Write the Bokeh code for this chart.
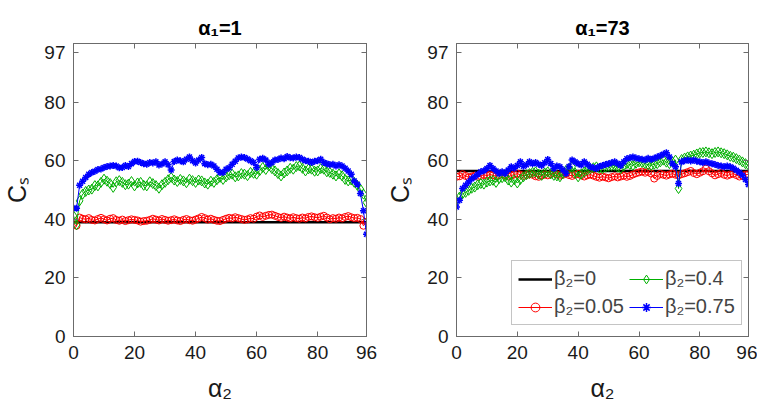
from bokeh.plotting import figure
from bokeh.models import Range1d, FixedTicker, LinearAxis, Legend, LegendItem
from bokeh.layouts import row
from bokeh.embed import file_html
from bokeh.resources import INLINE

# ---------------- data ----------------
alpha2 = list(range(97))
x_ticks = [0, 20, 40, 60, 80, 96]
y_ticks = [0, 20, 40, 60, 80, 97]
titles = ["α₁=1", "α₁=73"]
labels = ["β₂=0", "β₂=0.05", "β₂=0.4", "β₂=0.75"]

black_x = [0, 96]
left_b0 = [39.0, 39.0]
right_b0 = [56.5, 56.5]

left_b005 = [38.3, 37.8, 40.6, 40.2, 40.0, 40.4, 39.8, 39.6, 40.1, 40.5,
             40.0, 39.6, 40.2, 40.4, 39.8, 39.5, 39.9, 39.4, 39.7, 40.0,
             39.8, 39.6, 39.2, 39.4, 39.5, 39.8, 40.2, 39.9, 39.6, 40.1,
             39.8, 39.5, 39.7, 40.0, 39.6, 39.4, 39.8, 40.1, 39.7, 39.5,
             39.9, 40.3, 40.8, 40.4, 39.9, 40.2, 39.8, 39.5, 39.4, 39.8,
             40.2, 40.5, 40.3, 40.7, 40.4, 40.1, 39.8, 40.0, 40.4, 40.2,
             40.9, 41.3, 40.8, 41.2, 41.5, 41.6, 41.2, 40.8, 40.5, 40.9,
             40.6, 40.3, 40.7, 40.4, 40.2, 40.6, 40.3, 40.8, 41.0, 40.7,
             40.5, 40.9, 41.2, 40.6, 40.0, 40.4, 40.2, 40.6, 40.3, 40.8,
             41.1, 40.7, 40.4, 40.5, 40.1, 37.8, 39.2]

left_b04 = [41.2, 38.1, 46.3, 48.6, 49.5, 50.0, 50.3, 51.5, 51.4, 52.6,
            53.7, 53.0, 52.2, 50.9, 52.8, 53.2, 52.6, 51.8, 52.0, 52.9,
            51.4, 52.4, 52.6, 51.6, 51.4, 52.8, 52.2, 51.5, 50.6, 51.8,
            52.6, 53.5, 54.3, 53.4, 52.9, 53.6, 53.1, 52.5, 53.7, 53.2,
            52.6, 53.4, 53.1, 52.4, 52.0, 53.0, 52.6, 53.5, 54.3, 53.6,
            54.5, 55.2, 55.4, 54.5, 54.8, 55.6, 55.4, 54.9, 56.0, 55.7,
            55.4, 56.6, 57.7, 57.0, 58.2, 57.3, 56.5, 55.6, 54.8, 55.8,
            56.5, 57.4, 57.1, 58.0, 58.2, 57.4, 56.5, 57.2, 57.1, 56.4,
            56.5, 57.3, 57.1, 56.2, 56.0, 55.4, 54.8, 55.5, 54.8, 53.6,
            53.1, 53.4, 52.6, 51.6, 50.3, 48.6, 45.7]

left_b075 = [43.8, 43.8, 51.6, 53.0, 54.3, 55.4, 56.0, 56.4, 57.0, 57.2,
             57.7, 58.0, 58.2, 58.4, 58.2, 57.6, 57.7, 58.4, 58.0, 59.0,
             59.7, 59.8, 59.4, 59.0, 58.8, 59.4, 59.2, 59.6, 58.5, 58.9,
             59.6, 58.6, 56.8, 59.7, 60.2, 60.0, 59.6, 60.5, 61.3, 60.0,
             59.2, 60.2, 61.1, 59.0, 58.6, 58.8, 58.2, 57.1, 56.0, 56.0,
             57.1, 57.6, 58.8, 59.8, 60.9, 61.3, 61.1, 60.6, 60.0, 59.4,
             57.7, 60.5, 60.8, 60.2, 58.8, 59.4, 60.2, 60.4, 60.9, 60.7,
             61.4, 61.0, 60.9, 61.3, 61.1, 60.5, 60.0, 59.8, 59.4, 59.8,
             60.0, 60.5, 59.4, 59.0, 58.6, 58.8, 58.2, 58.6, 58.2, 57.4,
             56.5, 55.4, 53.1, 52.0, 48.8, 42.9, 34.9]

right_b005 = [54.5, 54.7, 55.4, 54.8, 54.3, 54.6, 54.9, 54.5, 54.8, 55.2,
              54.9, 55.3, 55.0, 54.7, 55.1, 55.4, 55.0, 54.6, 54.9, 55.3,
              55.6, 55.2, 54.8, 55.1, 55.5, 55.2, 54.7, 54.5, 54.9, 55.3,
              55.0, 55.4, 55.8, 55.3, 54.9, 55.2, 55.6, 55.1, 54.8, 55.2,
              55.5, 55.0, 54.6, 55.0, 55.3, 54.9, 54.5, 54.2, 54.6, 54.3,
              54.0, 54.4, 54.7, 54.3, 54.6, 54.9, 54.5, 54.8, 55.3, 55.7,
              56.0, 56.3, 55.9, 56.2, 55.6, 53.9, 54.8, 55.5, 55.2, 54.9,
              55.3, 55.6, 55.2, 55.0, 55.4, 55.7, 56.1, 56.5, 55.8, 55.4,
              55.9, 56.4, 57.3, 56.4, 55.7, 55.0, 55.4, 55.8, 55.2, 54.9,
              55.3, 55.6, 55.1, 54.6, 54.9, 55.2, 55.4]

right_b04 = [46.5, 47.6, 48.7, 49.2, 49.9, 50.6, 51.0, 51.8, 52.2, 52.0,
             52.7, 53.1, 53.3, 52.6, 53.9, 54.2, 54.5, 53.4, 52.7, 53.5,
             52.4, 53.6, 54.5, 55.2, 55.6, 56.0, 56.2, 55.4, 55.0, 55.8,
             56.2, 55.5, 55.0, 54.8, 54.5, 55.6, 56.7, 57.3, 57.9, 55.8,
             54.5, 55.4, 56.2, 56.8, 57.3, 57.6, 57.9, 57.4, 57.3, 57.8,
             58.1, 58.3, 58.4, 57.8, 57.3, 58.2, 59.0, 58.7, 58.4, 59.1,
             59.6, 59.4, 59.0, 58.6, 58.4, 58.8, 59.0, 59.6, 60.2, 59.5,
             59.0, 59.6, 60.2, 50.5, 60.4, 60.9, 61.3, 61.6, 61.9, 62.3,
             62.7, 62.8, 63.0, 62.7, 62.4, 62.8, 63.0, 62.7, 62.4, 62.0,
             61.5, 61.2, 60.7, 60.2, 59.6, 59.0, 58.4]

right_b075 = [44.2, 46.5, 50.5, 51.6, 52.7, 53.8, 54.5, 55.4, 56.2, 56.6,
              57.3, 58.4, 57.3, 56.5, 55.6, 56.2, 55.6, 56.8, 57.9, 57.4,
              58.4, 59.6, 58.1, 58.6, 59.6, 59.0, 59.4, 58.8, 58.4, 59.3,
              60.4, 59.0, 57.3, 58.2, 57.9, 56.8, 55.6, 58.0, 60.2, 59.6,
              59.0, 58.5, 59.6, 58.8, 57.9, 57.6, 57.3, 58.0, 58.4, 58.7,
              59.0, 59.3, 59.6, 59.0, 58.4, 59.6, 60.7, 61.0, 61.3, 60.9,
              60.7, 60.5, 60.2, 60.8, 60.4, 60.8, 61.3, 61.7, 62.2, 62.7,
              61.3, 59.0, 57.9, 52.2, 59.6, 60.0, 60.2, 59.9, 60.2, 59.8,
              59.6, 59.3, 59.6, 59.2, 59.0, 58.7, 58.4, 58.2, 57.9, 58.2,
              57.9, 57.4, 56.7, 56.0, 55.0, 53.6, 51.9]

# ---------------- styling ----------------
FONT = "Liberation Sans"
AX = "#6b6b6b"
RED = "#ff0000"
GREEN = "#00b000"
BLUE = "#0000ff"


def make(title, b0, b005, b04, b075, bl, br, fw, with_legend):
    p = figure(frame_width=fw, frame_height=293,
               x_range=Range1d(0, 96), y_range=Range1d(0, 100),
               output_backend="svg", toolbar_location=None,
               min_border_left=bl, min_border_right=br,
               min_border_top=43, min_border_bottom=61)
    p.title.text = title
    p.title.align = "center"
    p.title.text_font = FONT
    p.title.text_font_size = "20px"
    p.title.text_font_style = "bold"
    p.title.text_color = "black"
    p.title.padding = (0, 0, 9, 0)
    p.grid.visible = False
    p.outline_line_color = AX
    p.background_fill_color = "white"
    p.border_fill_color = "white"

    for ax, ticks in ((p.xaxis, x_ticks), (p.yaxis, y_ticks)):
        ax.ticker = FixedTicker(ticks=ticks)
        ax.major_tick_in = 5
        ax.major_tick_out = 0
        ax.minor_tick_line_color = None
        ax.axis_line_color = AX
        ax.major_tick_line_color = AX
        ax.major_label_text_font = FONT
        ax.major_label_text_font_size = "19px"
        ax.major_label_text_color = "#1a1a1a"
        ax.axis_label_text_font = FONT
        ax.axis_label_text_font_size = "25px"
        ax.axis_label_text_font_style = "normal"
        ax.axis_label_text_color = "#1a1a1a"
    p.xaxis.axis_label = "α₂"
    p.yaxis.axis_label = "Cₛ"
    p.xaxis.major_label_standoff = 9
    p.xaxis.axis_label_standoff = 12
    p.yaxis.major_label_standoff = 8
    p.yaxis.axis_label_standoff = 10

    # box ticks on the top and right edges (no labels)
    for loc, ticks in (("above", x_ticks), ("right", y_ticks)):
        a = LinearAxis(ticker=FixedTicker(ticks=ticks),
                       major_tick_in=5, major_tick_out=0,
                       minor_tick_line_color=None,
                       axis_line_color=AX, major_tick_line_color=AX,
                       major_label_text_font_size="1px",
                       major_label_text_color=None,
                       major_label_standoff=0)
        p.add_layout(a, loc)

    r0 = p.line(black_x, b0, line_color="black", line_width=2.5)
    l1 = p.line(alpha2, b005, line_color=RED, line_width=1)
    s1 = p.scatter(alpha2, b005, marker="circle", size=7, line_color=RED,
                   fill_color=None, line_width=1)
    l2 = p.line(alpha2, b04, line_color=GREEN, line_width=1)
    s2 = p.scatter(alpha2, b04, marker="diamond", size=10, line_color=GREEN,
                   fill_color=None, line_width=1)
    l3 = p.line(alpha2, b075, line_color=BLUE, line_width=1)
    s3 = p.scatter(alpha2, b075, marker="asterisk", size=7, line_color=BLUE,
                   line_width=1.5)

    if with_legend:
        items = [LegendItem(label=labels[0], renderers=[r0]),
                 LegendItem(label=labels[1], renderers=[l1, s1]),
                 LegendItem(label=labels[2], renderers=[l2, s2]),
                 LegendItem(label=labels[3], renderers=[l3, s3])]
        leg = Legend(items=items, location=(55, 11), ncols=2,
                     label_text_font=FONT, label_text_font_size="20px",
                     glyph_width=34, glyph_height=22, label_standoff=2,
                     spacing=5, padding=6, margin=0,
                     border_line_color="#8a8a8a", border_line_width=1,
                     background_fill_alpha=1.0)
        p.add_layout(leg, "center")
    return p


p1 = make(titles[0], left_b0, left_b005, left_b04, left_b075, 70, 17, 293, False)
p2 = make(titles[1], right_b0, right_b005, right_b04, right_b075, 71, 9, 292, True)

layout = row(p1, p2)
open("out.html", "w").write(file_html(layout, INLINE))
